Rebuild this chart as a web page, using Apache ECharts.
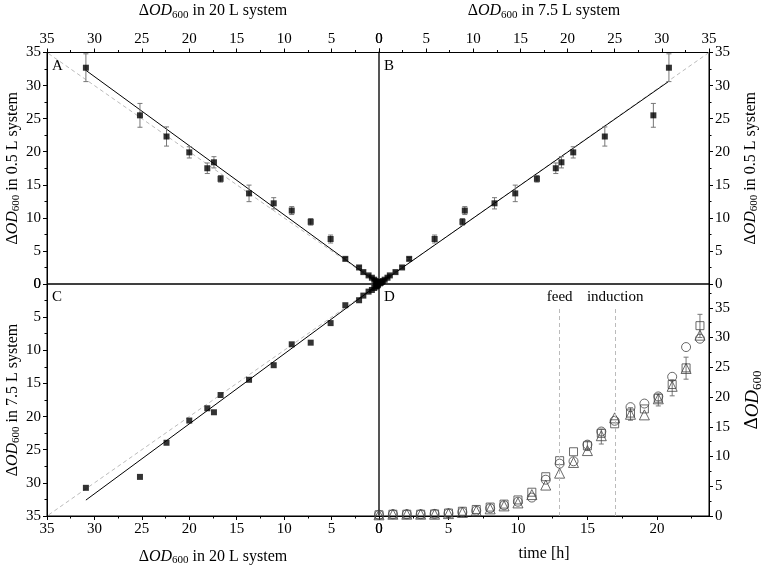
<!DOCTYPE html>
<html><head><meta charset="utf-8">
<script src="https://cdn.jsdelivr.net/npm/echarts@6/dist/echarts.min.js"></script>
<style>html,body{margin:0;padding:0;background:#fff}#c{width:765px;height:572px}</style>
</head><body><div id="c"></div>
<script>
// ---- data ----
const od20 = [30.9, 25.2, 22.4, 20.0, 18.1, 17.4, 16.7, 13.7, 11.1, 9.2, 7.2, 5.1, 3.55, 2.1, 1.65, 1.1, 0.75, 0.5, 0.35, 0.25, 0.15, 0.1];
const od05 = [32.7, 25.5, 22.3, 19.9, 17.5, 18.4, 15.9, 13.7, 12.2, 11.1, 9.4, 6.8, 3.8, 2.5, 1.8, 1.3, 0.95, 0.65, 0.45, 0.3, 0.2, 0.1];
const od75 = [30.75, 29.1, 23.95, 20.6, 18.75, 19.35, 16.75, 14.45, 12.25, 9.1, 8.85, 5.9, 3.2, 2.45, 1.75, 1.15, 0.9, 0.6, 0.4, 0.3, 0.2, 0.1];
const err05 = [2.1, 1.8, 1.45, 0.85, 0.8, 0.85, 0.5, 1.25, 0.85, 0.6, 0.5, 0.6, 0.2, 0.2, 0.15, 0.1, 0.1, 0.1, 0.05, 0.05, 0.05, 0.05];
const fitA = [[0, 0], [30.9, 32.3]];
const fitB = [[0, 0], [30.7, 30.6]];
const fitC = [[0, 0], [30.9, 32.6]];
const identity = [[0, 0], [35, 35]];

const timeH = [0,1,2,3,4,5,6,7,8,9,10,11,12,13,14,15,16,16.96,18.1,19.1,20.1,21.1,22.1,23.1];
const dSquare   = [0.2,0.3,0.3,0.3,0.35,0.5,0.8,1.1,1.5,2.0,2.7,4.0,6.6,9.3,10.8,11.8,13.9,15.5,17.3,18.0,19.8,22.1,24.9,32.0];
const dCircle   = [0.2,0.3,0.3,0.3,0.35,0.45,0.65,0.9,1.3,1.8,2.4,3.1,6.1,8.8,9.2,12.0,14.2,16.0,18.3,18.9,20.1,23.4,28.4,29.8];
const dTriangle = [0.2,0.3,0.3,0.3,0.3,0.4,0.6,0.85,1.2,1.7,2.2,3.6,5.2,7.2,9.0,11.0,13.5,16.5,17.1,17.0,19.7,21.8,24.8,30.4];
const dErr = [[15, 11.0, 12.6], [16, 12.1, 14.6], [18.1, 16.1, 18.2], [20.1, 18.5, 20.5], [21.1, 20.2, 22.9], [22.1, 23.0, 26.7], [23.1, 30.0, 33.9]];
const events = [{name: 'feed', t: 13}, {name: 'induction', t: 17}];
const ticks35 = [0, 5, 10, 15, 20, 25, 30, 35];
const ticksTime = [0, 5, 10, 15, 20];

// ---- styling ----
const FONT = 'Liberation Serif';
function odRich(size, sub) {
  return {
    d: {fontSize: size, fontFamily: FONT, color: '#000'},
    i: {fontSize: size, fontFamily: FONT, fontStyle: 'italic', color: '#000'},
    s: {fontSize: sub, fontFamily: FONT, color: '#000', padding: [Math.round(size * 0.5), 0, 0, 0]},
    n: {fontSize: size, fontFamily: FONT, color: '#000'}
  };
}
function odName(rest) { return '{d|Δ}{i|OD}{s|600}' + (rest ? '{n|' + rest + '}' : ''); }

function axis(o) {
  return Object.assign({
    type: 'value', min: 0, max: 35, interval: 5,
    axisLine: {show: true, onZero: false, lineStyle: {color: '#000', width: 1}},
    axisTick: {show: true, length: 4, inside: false, lineStyle: {color: '#000'}},
    minorTick: {show: true, splitNumber: 2, length: 2.5, lineStyle: {color: '#000'}},
    splitLine: {show: false},
    axisLabel: {fontFamily: FONT, fontSize: 15, color: '#000', margin: 6},
    nameLocation: 'middle',
    nameTextStyle: {rich: odRich(16, 11)}
  }, o);
}
function sepAxis(g) {
  return {type: 'value', gridIndex: g, position: 'left', min: 0, max: 35,
    axisLine: {show: true, onZero: false, lineStyle: {color: '#555', width: 2}},
    axisTick: {show: false}, minorTick: {show: false}, axisLabel: {show: false}, splitLine: {show: false}};
}

function errRender(params, api) {
  const x = api.value(0), lo = api.value(1), hi = api.value(2);
  const a = api.coord([x, hi]), b = api.coord([x, lo]);
  const w = 2.5;
  const st = {stroke: '#777', lineWidth: 1};
  return {type: 'group', children: [
    {type: 'line', shape: {x1: a[0], y1: a[1], x2: b[0], y2: b[1]}, style: st},
    {type: 'line', shape: {x1: a[0] - w, y1: a[1], x2: a[0] + w, y2: a[1]}, style: st},
    {type: 'line', shape: {x1: b[0] - w, y1: b[1], x2: b[0] + w, y2: b[1]}, style: st}
  ]};
}
function pairs(xs, ys) { return xs.map((v, i) => [v, ys[i]]); }
function errData(xs) { return xs.map((v, i) => [v, od05[i] - err05[i], od05[i] + err05[i]]); }

function quadSeries(xi, yi, pts, fit, errs) {
  const s = [
    {type: 'line', xAxisIndex: xi, yAxisIndex: yi, data: identity, showSymbol: false, silent: true,
      lineStyle: {color: '#bbb', width: 1, type: [4, 3]}, z: 1},
    {type: 'line', xAxisIndex: xi, yAxisIndex: yi, data: fit, showSymbol: false, silent: true,
      lineStyle: {color: '#000', width: 1}, z: 2}
  ];
  if (errs) s.push({type: 'custom', xAxisIndex: xi, yAxisIndex: yi, data: errs, renderItem: errRender, z: 3,
    encode: {x: 0, y: [1, 2]}});
  s.push({type: 'scatter', xAxisIndex: xi, yAxisIndex: yi, data: pts, symbol: 'rect', symbolSize: 6,
    itemStyle: {color: '#000'}, z: 4});
  return s;
}

const openStyle = {color: 'rgba(0,0,0,0)', borderColor: '#444', borderWidth: 1};

const option = {
  backgroundColor: '#fff',
  animation: false,
  grid: [
    {left: 47, top: 52.5, width: 332, height: 231.5, show: true, borderColor: '#000', borderWidth: 1},
    {left: 379, top: 52.5, width: 330, height: 231.5, show: true, borderColor: '#000', borderWidth: 1},
    {left: 47, top: 284, width: 332, height: 232, show: true, borderColor: '#000', borderWidth: 1},
    {left: 379, top: 284, width: 330, height: 232, show: true, borderColor: '#000', borderWidth: 1}
  ],
  xAxis: [
    axis({gridIndex: 0, position: 'top', inverse: true, name: odName(' in 20 L system'), nameGap: 32}),
    axis({gridIndex: 1, position: 'top', name: odName(' in 7.5 L system'), nameGap: 32}),
    axis({gridIndex: 2, position: 'bottom', inverse: true, name: odName(' in 20 L system'), nameGap: 31}),
    axis({gridIndex: 3, position: 'bottom', max: 23.75,
      axisLabel: {fontFamily: FONT, fontSize: 15, color: '#000', margin: 6, customValues: ticksTime},
      axisTick: {show: true, length: 4, lineStyle: {color: '#000'}, customValues: ticksTime},
      name: 'time [h]', nameGap: 30, nameTextStyle: {fontFamily: FONT, fontSize: 16, color: '#000'}})
  ],
  yAxis: [
    axis({gridIndex: 0, position: 'left', name: odName(' in 0.5 L system'), nameRotate: 90, nameGap: 24}),
    axis({gridIndex: 1, position: 'right', name: odName(' in 0.5 L system'), nameRotate: 90, nameGap: 32}),
    axis({gridIndex: 2, position: 'left', inverse: true, name: odName(' in 7.5 L system'), nameRotate: 90, nameGap: 24}),
    axis({gridIndex: 3, position: 'right', max: 39,
      axisLabel: {fontFamily: FONT, fontSize: 15, color: '#000', margin: 6, customValues: ticks35},
      axisTick: {show: true, length: 4, lineStyle: {color: '#000'}, customValues: ticks35},
      name: odName(''), nameRotate: 90, nameGap: 32, nameTextStyle: {rich: odRich(19, 13)}}),
    sepAxis(1),
    sepAxis(3)
  ],
  graphic: [
    {type: 'text', left: 52, top: 59, style: {text: 'A', font: '15px "Liberation Serif"', fill: '#000'}},
    {type: 'text', left: 384, top: 59, style: {text: 'B', font: '15px "Liberation Serif"', fill: '#000'}},
    {type: 'text', left: 52, top: 290, style: {text: 'C', font: '15px "Liberation Serif"', fill: '#000'}},
    {type: 'text', left: 384, top: 290, style: {text: 'D', font: '15px "Liberation Serif"', fill: '#000'}}
  ],
  series: [
    ...quadSeries(0, 0, pairs(od20, od05), fitA, errData(od20)),
    ...quadSeries(1, 1, pairs(od75, od05), fitB, errData(od75)),
    ...quadSeries(2, 2, pairs(od20, od75), fitC, null),
    {type: 'custom', xAxisIndex: 3, yAxisIndex: 3, data: dErr, renderItem: errRender, z: 3, encode: {x: 0, y: [1, 2]}},
    {type: 'scatter', xAxisIndex: 3, yAxisIndex: 3, data: pairs(timeH, dSquare), symbol: 'rect', symbolSize: 8,
      itemStyle: openStyle, z: 4,
      markLine: {silent: true, symbol: ['none', 'none'],
        lineStyle: {color: '#bbb', width: 1, type: [4, 3]},
        label: {show: true, position: 'end', formatter: '{b}', fontFamily: FONT, fontSize: 15, color: '#000', distance: 2},
        data: events.map(e => [{name: e.name, coord: [e.t, 0]}, {coord: [e.t, 35.2]}])}},
    {type: 'scatter', xAxisIndex: 3, yAxisIndex: 3, data: pairs(timeH, dCircle), symbol: 'circle', symbolSize: 9,
      itemStyle: openStyle, z: 4},
    {type: 'scatter', xAxisIndex: 3, yAxisIndex: 3, data: pairs(timeH, dTriangle), symbol: 'triangle', symbolSize: 10,
      itemStyle: openStyle, z: 4}
  ]
};
echarts.init(document.getElementById('c'), null, {renderer: 'canvas'}).setOption(option);
</script></body></html>
